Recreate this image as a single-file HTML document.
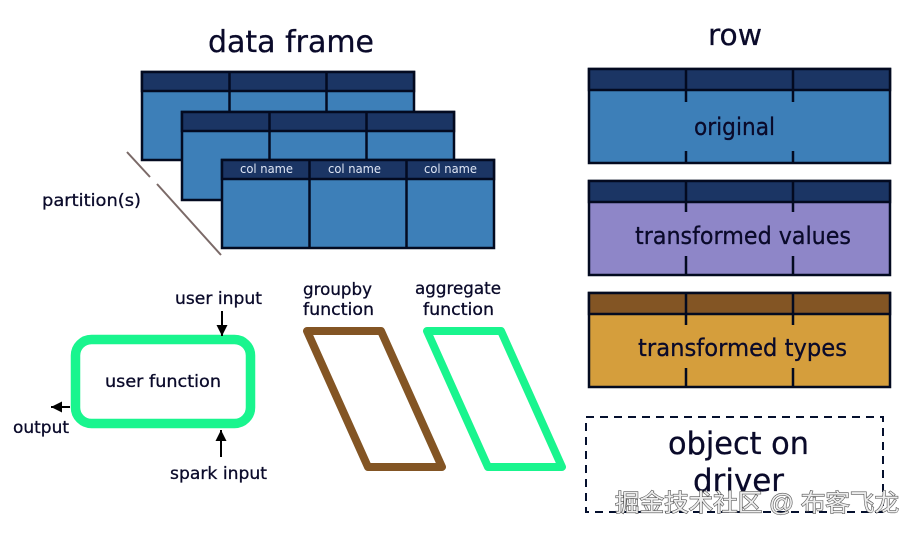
<!DOCTYPE html>
<html><head><meta charset="utf-8"><style>
html,body{margin:0;padding:0;background:#fff;width:916px;height:533px;overflow:hidden}
svg{display:block}
text{font-family:"DejaVu Sans","Liberation Sans",sans-serif;fill:#0a0a2a;stroke:#0a0a2a;stroke-width:.3}
</style></head><body>
<svg width="916" height="533" viewBox="0 0 916 533" xmlns="http://www.w3.org/2000/svg">
<defs>
<marker id="a" markerWidth="11" markerHeight="11" refX="10" refY="5" orient="auto" markerUnits="userSpaceOnUse" viewBox="0 0 10 10"><path d="M0 0L10 5L0 10z" fill="#000"/></marker>
</defs>
<text x="208" y="52" font-size="30" textLength="166" lengthAdjust="spacingAndGlyphs">data frame</text>
<text x="708" y="45" font-size="29" textLength="54" lengthAdjust="spacingAndGlyphs">row</text>

<g stroke="#030a20" stroke-width="2.500">
<rect x="142" y="72" width="272" height="88" fill="#3d7fb8"/>
<rect x="142" y="72" width="272" height="19" fill="#1b3564"/>
<path d="M229.500 72V160M326.500 72V160" fill="none"/>
<rect x="182" y="112" width="272" height="88" fill="#3d7fb8"/>
<rect x="182" y="112" width="272" height="19" fill="#1b3564"/>
<path d="M269.500 112V200M366.500 112V200" fill="none"/>
<rect x="222" y="160" width="272" height="88" fill="#3d7fb8"/>
<rect x="222" y="160" width="272" height="19" fill="#1b3564"/>
<path d="M309.500 160V248M406.500 160V248" fill="none"/>
</g>
<text x="240" y="173" font-size="12" textLength="53" lengthAdjust="spacingAndGlyphs" style="fill:#dfe6f5;stroke:none">col name</text>
<text x="328" y="173" font-size="12" textLength="53" lengthAdjust="spacingAndGlyphs" style="fill:#dfe6f5;stroke:none">col name</text>
<text x="424" y="173" font-size="12" textLength="53" lengthAdjust="spacingAndGlyphs" style="fill:#dfe6f5;stroke:none">col name</text>
<path d="M127 152L150 177M157 184L221 255" stroke="#7b6a68" stroke-width="2" fill="none"/>
<text x="42" y="206" font-size="17" textLength="99" lengthAdjust="spacingAndGlyphs">partition(s)</text>

<g stroke="#030a20" stroke-width="2.500" fill="none">
<rect x="589" y="69" width="301" height="94" fill="#3d7fb8"/>
<rect x="589" y="69" width="301" height="21" fill="#1b3564"/>
<path d="M686 69V102M793 69V102M686 151V163M793 151V163"/>
<rect x="589" y="181" width="301" height="94" fill="#8e86c8"/>
<rect x="589" y="181" width="301" height="21" fill="#1b3564"/>
<path d="M686 181V212M793 181V212M686 256V275M793 256V275"/>
<rect x="589" y="293" width="301" height="94" fill="#d59e3c"/>
<rect x="589" y="293" width="301" height="21" fill="#835524"/>
<path d="M686 293V325M793 293V325M686 368V387M793 368V387"/>
</g>
<text x="694" y="135" font-size="24" textLength="81" lengthAdjust="spacingAndGlyphs">original</text>
<text x="635" y="244" font-size="24" textLength="216" lengthAdjust="spacingAndGlyphs">transformed values</text>
<text x="638" y="356" font-size="24" textLength="209" lengthAdjust="spacingAndGlyphs">transformed types</text>

<rect x="586" y="417" width="297" height="95" fill="none" stroke="#05102e" stroke-width="2" stroke-dasharray="8 6"/>
<text x="668" y="454" font-size="31" textLength="141" lengthAdjust="spacingAndGlyphs">object on</text>
<text x="693" y="491" font-size="31" textLength="91" lengthAdjust="spacingAndGlyphs">driver</text>

<rect x="75.500" y="339.500" width="175" height="84" rx="16" fill="#fff" stroke="#19f58e" stroke-width="9.500"/>
<text x="105" y="387" font-size="17" textLength="116" lengthAdjust="spacingAndGlyphs">user function</text>
<text x="175" y="304" font-size="17" textLength="87" lengthAdjust="spacingAndGlyphs">user input</text>
<text x="170" y="479" font-size="17" textLength="97" lengthAdjust="spacingAndGlyphs">spark input</text>
<text x="13" y="433" font-size="17" textLength="56" lengthAdjust="spacingAndGlyphs">output</text>
<g stroke="#000" stroke-width="2" fill="none">
<path d="M222 311V336" marker-end="url(#a)"/>
<path d="M221 457V430" marker-end="url(#a)"/>
<path d="M70 407H51" marker-end="url(#a)"/>
</g>

<path d="M307 331H381L442 467H368Z" fill="#fff" stroke="#835524" stroke-width="8" stroke-linejoin="round"/>
<path d="M427 331H501L562 467H488Z" fill="#fff" stroke="#19f58e" stroke-width="8" stroke-linejoin="round"/>
<text x="303" y="295" font-size="17" textLength="69" lengthAdjust="spacingAndGlyphs">groupby</text>
<text x="303" y="315" font-size="17" textLength="71" lengthAdjust="spacingAndGlyphs">function</text>
<text x="415" y="294" font-size="17" textLength="86" lengthAdjust="spacingAndGlyphs">aggregate</text>
<text x="423" y="315" font-size="17" textLength="71" lengthAdjust="spacingAndGlyphs">function</text>

<text x="615" y="511" font-size="24" textLength="284" lengthAdjust="spacingAndGlyphs" style="font-family:'Liberation Sans','Noto Sans CJK SC',sans-serif;fill:#eee;stroke:#555;stroke-width:1.200;paint-order:stroke">掘金技术社区 @ 布客飞龙</text>
</svg>
</body></html>
